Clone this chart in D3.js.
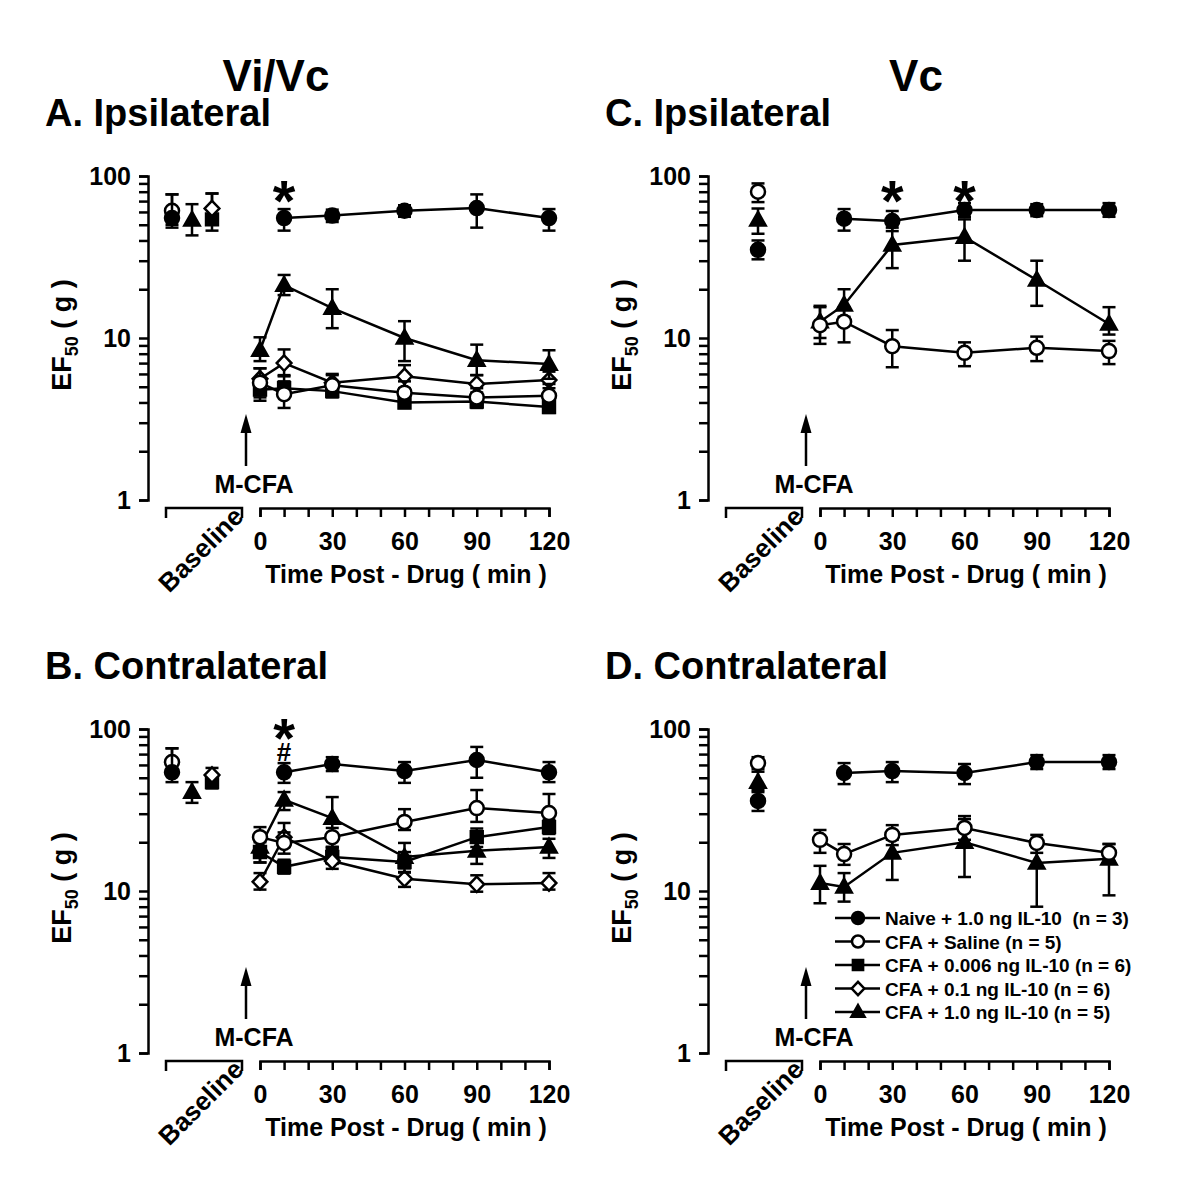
<!DOCTYPE html>
<html>
<head>
<meta charset="utf-8">
<script src="https://cdn.jsdelivr.net/npm/d3@7"></script>
<style>
body { margin: 0; background: #fff; }
text { font-family: Arial, "Liberation Sans", sans-serif; font-weight: bold; fill: #000; white-space: pre; }
</style>
</head>
<body>
<div id="fig"></div>
<script>
// x categories: baseline + minutes after drug
const points = ['BL', 0, 10, 30, 60, 90, 120];
const xTickValues = [0, 10, 20, 30, 40, 50, 60, 70, 80, 90, 100, 110, 120];
const xTickLabels = [0, 30, 60, 90, 120];
const yTickValues = [1, 2, 3, 4, 5, 6, 7, 8, 9, 10, 20, 30, 40, 50, 60, 70, 80, 90, 100];
const yTickLabels = [1, 10, 100];

const seriesKeys = ['il006', 'il01', 'il10', 'saline', 'naive'];   // draw order
const legendKeys = ['naive', 'saline', 'il006', 'il01', 'il10'];
const legendNames = ['Naive + 1.0 ng IL-10  (n = 3)', 'CFA + Saline (n = 5)',
  'CFA + 0.006 ng IL-10 (n = 6)', 'CFA + 0.1 ng IL-10 (n = 6)', 'CFA + 1.0 ng IL-10 (n = 5)'];
const shapes = { naive: 'circle', saline: 'circle', il006: 'square', il01: 'diamond', il10: 'triangle' };
const fills = { naive: '#000', saline: '#fff', il006: '#000', il01: '#fff', il10: '#000' };

// ---- A. Vi/Vc ipsilateral (EF50, g) ----
const A_naive    = [55, null, 55, 57, 61, 63.4, 55];
const A_naive_lo = [48, null, 46, 52, 56, 48, 46];
const A_naive_hi = [77, null, 62.5, 62, 66, 77, 62.5];
const A_saline    = [61, 5.3, 4.5, 5.1, 4.6, 4.3, 4.4];
const A_saline_lo = [50, 4.1, 3.7, 4.5, 4.0, 3.9, 3.7];
const A_saline_hi = [77, 6.5, 5.8, 5.9, 5.4, 4.9, 5.2];
const A_il006    = [54, 4.8, 4.9, 4.7, 4.0, 4.05, 3.75];
const A_il006_lo = [46, 4.3, 4.4, 4.3, 3.7, 3.7, 3.45];
const A_il006_hi = [78, 5.4, 5.4, 5.2, 4.4, 4.4, 4.1];
const A_il01    = [63, 5.6, 7.0, 5.3, 5.8, 5.2, 5.5];
const A_il01_lo = [52, 4.8, 5.9, 4.7, 4.9, 4.6, 4.9];
const A_il01_hi = [78, 6.5, 8.5, 6.0, 6.8, 5.9, 6.2];
const A_il10    = [53.5, 8.4, 21.2, 15.3, 10, 7.3, 6.9];
const A_il10_lo = [43, 7.2, 18.4, 11.5, 7.2, 5.9, 5.6];
const A_il10_hi = [67, 10.1, 24.5, 20, 12.7, 9.1, 8.4];

// ---- B. Vi/Vc contralateral ----
const B_naive    = [54, null, 54, 60.8, 55, 64.4, 54];
const B_naive_lo = [47, null, 46.5, 55, 46.5, 50, 47];
const B_naive_hi = [76, null, 61.6, 67, 62.5, 77.5, 62.5];
const B_saline    = [62.5, 21.5, 19.8, 21.5, 26.7, 32.5, 30.3];
const B_saline_lo = [52, 18.7, 17, 18.7, 23.8, 26.7, 25.5];
const B_saline_hi = [76, 24.8, 23, 24.5, 32, 42, 39.7];
const B_il006    = [47, 17.4, 14.1, 16.2, 15.1, 21.5, 24.8];
const B_il006_lo = [43, 15, 12.8, 14.7, 13.8, 18.7, 22.5];
const B_il006_hi = [52, 20, 15.6, 18.7, 17.4, 24.3, 27.5];
const B_il01    = [52, 11.4, 21.5, 15.3, 11.9, 11.0, 11.2];
const B_il01_lo = [47, 10.2, 18.7, 13.7, 10.6, 9.9, 10.2];
const B_il01_hi = [57.5, 12.9, 26.3, 18, 13.1, 12.5, 12.9];
const B_il10    = [40.8, 18.7, 36.5, 28.2, 16.2, 17.7, 18.7];
const B_il10_lo = [35, 15, 31.6, 18.4, 13, 14.7, 16];
const B_il10_hi = [47, 21.8, 40.8, 38, 19.8, 21, 21];

// ---- C. Vc ipsilateral ----
const C_naive    = [35, null, 54.5, 52.7, 61.6, 61.6, 61.6];
const C_naive_lo = [30.6, null, 46, 45.7, 56, 56.5, 56];
const C_naive_hi = [40, null, 62.5, 60.8, 68, 67, 68];
const C_saline    = [80, 12, 12.6, 8.9, 8.1, 8.7, 8.3];
const C_saline_lo = [69, 9.2, 9.4, 6.6, 6.7, 7.2, 6.9];
const C_saline_hi = [90, 15.5, 15.5, 11.2, 9.4, 10.2, 9.6];
const C_il10    = [53.5, 12.6, 16, 37.5, 42, 22.8, 12.2];
const C_il10_lo = [44, 10, 13.5, 27, 30, 15.8, 10.5];
const C_il10_hi = [63, 15.8, 20, 48, 54, 30, 15.5];

// ---- D. Vc contralateral ----
const D_naive    = [36, null, 53.5, 55, 53.5, 62.5, 62.5];
const D_naive_lo = [31.2, null, 45.7, 47, 45.7, 56.6, 56.6];
const D_naive_hi = [40.8, null, 61.6, 62.5, 60.8, 69, 69];
const D_saline    = [61.6, 20.7, 16.9, 22.2, 24.5, 19.8, 17.2];
const D_saline_lo = [56.6, 17.2, 14.5, 19.2, 20.7, 17.2, 15.3];
const D_saline_hi = [67, 23.8, 19.5, 25.5, 29, 22.2, 19.5];
const D_il10    = [47, 11.2, 10.6, 17.2, 20, 14.9, 15.8];
const D_il10_lo = [42, 8.4, 8.6, 11.7, 12.2, 8.0, 9.4];
const D_il10_hi = [54.5, 14.3, 12.9, 20.7, 27.8, 20, 19.5];

const panels = [
  { title: 'A. Ipsilateral', ox: 0, oy: 0, slots: [172, 192, 212],
    slotOf: { naive: 0, saline: 0, il10: 1, il006: 2, il01: 2 },
    series: { naive: [A_naive, A_naive_lo, A_naive_hi], saline: [A_saline, A_saline_lo, A_saline_hi],
      il006: [A_il006, A_il006_lo, A_il006_hi], il01: [A_il01, A_il01_lo, A_il01_hi], il10: [A_il10, A_il10_lo, A_il10_hi] },
    marks: [{ t: ['*'], at: 10 }] },
  { title: 'B. Contralateral', ox: 0, oy: 553, slots: [172, 192, 212],
    slotOf: { naive: 0, saline: 0, il10: 1, il006: 2, il01: 2 },
    series: { naive: [B_naive, B_naive_lo, B_naive_hi], saline: [B_saline, B_saline_lo, B_saline_hi],
      il006: [B_il006, B_il006_lo, B_il006_hi], il01: [B_il01, B_il01_lo, B_il01_hi], il10: [B_il10, B_il10_lo, B_il10_hi] },
    marks: [{ t: ['*', '#'], at: 10 }] },
  { title: 'C. Ipsilateral', ox: 560, oy: 0, slots: [198, 198, 198],
    slotOf: { naive: 0, saline: 0, il10: 0 },
    series: { naive: [C_naive, C_naive_lo, C_naive_hi], saline: [C_saline, C_saline_lo, C_saline_hi], il10: [C_il10, C_il10_lo, C_il10_hi] },
    marks: [{ t: ['*'], at: 30 }, { t: ['*'], at: 60 }] },
  { title: 'D. Contralateral', ox: 560, oy: 553, slots: [198, 198, 198], legend: true,
    slotOf: { naive: 0, saline: 0, il10: 0 },
    series: { naive: [D_naive, D_naive_lo, D_naive_hi], saline: [D_saline, D_saline_lo, D_saline_hi], il10: [D_il10, D_il10_lo, D_il10_hi] },
    marks: [] }
];

const svg = d3.select('#fig').append('svg').attr('width', 1200).attr('height', 1183);

function shapePath(shape, s) {
  if (shape === 'circle') return d3.symbol(d3.symbolCircle, Math.PI * s * s)();
  if (shape === 'square') return `M${-s * 0.85},${-s * 0.85}H${s * 0.85}V${s * 0.85}H${-s * 0.85}Z`;
  if (shape === 'diamond') return `M0,${-s * 1.1}L${s * 1.05},0L0,${s * 1.1}L${-s * 1.05},0Z`;
  return `M0,${-s * 1.15}L${s * 1.1},${s * 0.8}L${-s * 1.1},${s * 0.8}Z`;
}

svg.append('text').attr('x', 276).attr('y', 91).attr('text-anchor', 'middle').attr('font-size', 44).text('Vi/Vc');
svg.append('text').attr('x', 916).attr('y', 91).attr('text-anchor', 'middle').attr('font-size', 44).text('Vc');

panels.forEach(p => {
  const g = svg.append('g').attr('transform', `translate(${p.ox},${p.oy})`);
  const x = d3.scaleLinear().domain([0, 120]).range([260, 549]);
  const y = d3.scaleLog().domain([1, 100]).range([500, 176]);
  const px = (pt, key) => pt === 'BL' ? p.slots[p.slotOf[key]] : x(pt);

  g.append('text').attr('x', 45).attr('y', 126).attr('font-size', 38).text(p.title);

  // y axis
  const ya = g.append('g').attr('transform', 'translate(148,0)')
    .call(d3.axisLeft(y).tickValues(yTickValues).tickSizeOuter(0).tickSize(9).tickPadding(8)
      .tickFormat(d => yTickLabels.includes(d) ? d : ''));
  ya.select('.domain').attr('stroke', '#000').attr('stroke-width', 2.5);
  ya.selectAll('.tick line').attr('stroke', '#000').attr('stroke-width', 2.5);
  ya.selectAll('.tick text').attr('font-size', 25).attr('font-family', null);

  const yl = g.append('text').attr('transform', 'translate(71,335) rotate(-90)').attr('text-anchor', 'middle').attr('font-size', 27);
  yl.append('tspan').text('EF');
  yl.append('tspan').attr('font-size', 18).attr('dy', 7).text('50');
  yl.append('tspan').attr('dy', -7).text(' ( g )');

  // x axis (time) and baseline bracket
  const xa = g.append('g').attr('transform', 'translate(0,508)')
    .call(d3.axisBottom(x).tickValues(xTickValues).tickSizeOuter(0).tickSize(9).tickPadding(15)
      .tickFormat(d => xTickLabels.includes(d) ? d : ''));
  xa.select('.domain').attr('stroke', '#000').attr('stroke-width', 2.5);
  xa.selectAll('.tick line').attr('stroke', '#000').attr('stroke-width', 2.5);
  xa.selectAll('.tick text').attr('font-size', 25).attr('font-family', null);
  g.append('path').attr('d', 'M166,518V508H242V518').attr('fill', 'none').attr('stroke', '#000').attr('stroke-width', 2.5);
  g.append('text').attr('transform', 'translate(245,518) rotate(-45)').attr('text-anchor', 'end').attr('font-size', 26).text('Baseline');
  g.append('text').attr('x', 406).attr('y', 583).attr('text-anchor', 'middle').attr('font-size', 25).text('Time Post - Drug ( min )');

  // M-CFA arrow
  g.append('line').attr('x1', 246).attr('x2', 246).attr('y1', 466).attr('y2', 428).attr('stroke', '#000').attr('stroke-width', 2.5);
  g.append('path').attr('d', 'M246,414L251.5,433L240.5,433Z').attr('fill', '#000');
  g.append('text').attr('x', 254).attr('y', 493).attr('text-anchor', 'middle').attr('font-size', 25).text('M-CFA');

  // series
  seriesKeys.filter(k => p.series[k]).forEach(k => {
    const [mean, lo, hi] = p.series[k];
    const pts = points.map((pt, i) => ({ pt, v: mean[i], lo: lo[i], hi: hi[i] })).filter(d => d.v != null);
    const timePts = pts.filter(d => d.pt !== 'BL');
    const sg = g.append('g');
    sg.append('path').datum(timePts)
      .attr('d', d3.line().x(d => x(d.pt)).y(d => y(d.v)))
      .attr('fill', 'none').attr('stroke', '#000').attr('stroke-width', 2.5);
    const eb = sg.selectAll('.eb').data(pts).join('g');
    eb.append('line').attr('x1', d => px(d.pt, k)).attr('x2', d => px(d.pt, k))
      .attr('y1', d => y(d.lo)).attr('y2', d => y(d.hi)).attr('stroke', '#000').attr('stroke-width', 2.5);
    ['lo', 'hi'].forEach(end => {
      eb.append('line').attr('x1', d => px(d.pt, k) - 6.5).attr('x2', d => px(d.pt, k) + 6.5)
        .attr('y1', d => y(d[end])).attr('y2', d => y(d[end])).attr('stroke', '#000').attr('stroke-width', 2.5);
    });
    sg.selectAll('.mk').data(pts).join('path')
      .attr('transform', d => `translate(${px(d.pt, k)},${y(d.v)})`)
      .attr('d', shapePath(shapes[k], 7))
      .attr('fill', fills[k]).attr('stroke', '#000').attr('stroke-width', 2.5);
  });

  // significance marks (* alone, or * over #)
  p.marks.forEach(m => {
    const t = g.append('text').attr('text-anchor', 'middle');
    if (m.t.length === 1) {
      t.append('tspan').attr('x', x(m.at)).attr('y', 221).attr('font-size', 58).text('*');
    } else {
      t.append('tspan').attr('x', x(m.at)).attr('y', 204).attr('font-size', 56).text('*');
      t.append('tspan').attr('x', x(m.at)).attr('y', 208).attr('font-size', 26).text('#');
    }
  });

  // legend
  if (p.legend) {
    legendKeys.forEach((k, i) => {
      const ly = 365 + i * 23.5;
      g.append('line').attr('x1', 275).attr('x2', 320).attr('y1', ly).attr('y2', ly).attr('stroke', '#000').attr('stroke-width', 2.5);
      g.append('path').attr('transform', `translate(298,${ly})`).attr('d', shapePath(shapes[k], 6))
        .attr('fill', fills[k]).attr('stroke', '#000').attr('stroke-width', 2.5);
      g.append('text').attr('x', 325).attr('y', ly + 7).attr('font-size', 19).text(legendNames[i]);
    });
  }
});
</script>
</body>
</html>
